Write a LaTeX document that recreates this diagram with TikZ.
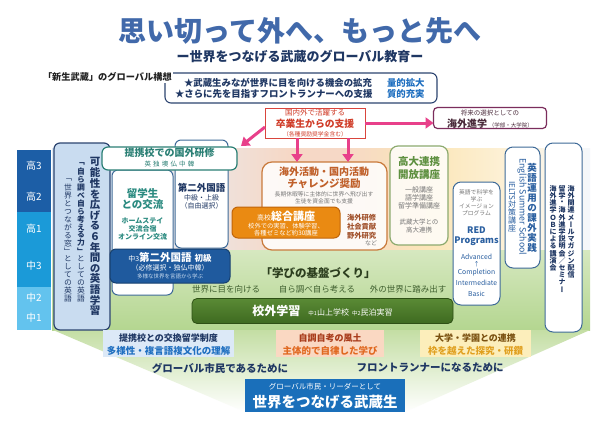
\documentclass[tikz,border=0pt]{standalone}
\usepackage{fontspec}
\setmainfont{Noto Sans CJK JP}
\newfontfamily\jpv{Noto Sans CJK JP}[RawFeature=+vert]
\usetikzlibrary{arrows.meta,calc}
\newcommand\fsz[1]{\fontsize{#1}{#1}\selectfont}
\makeatletter
\newcommand\vtxt[2]{\vbox{\offinterlineskip\def\vtxt@h{#1}\vtxt@#2\@nil}}
\def\vtxt@#1{\ifx\@nil#1\else\vbox to \vtxt@h{\vss\hbox to 1em{\hss#1\hss}\vss}\expandafter\vtxt@\fi}
\makeatother
\definecolor{titleblue}{HTML}{4169AA}
\definecolor{navy}{HTML}{1F3763}
\definecolor{accentblue}{HTML}{1F6FC0}
\definecolor{textdark}{HTML}{222222}
\definecolor{navyline}{HTML}{2C4470}
\definecolor{pinkred}{HTML}{D9453D}
\definecolor{pinktext}{HTML}{D03C28}
\definecolor{pinkA}{HTML}{E8408A}
\definecolor{maroon}{HTML}{7B2D5C}
\definecolor{maroontext}{HTML}{4A2A3A}
\definecolor{yrDark}{HTML}{1C5EA6}
\definecolor{yrMid}{HTML}{1B9AD8}
\definecolor{yrLight}{HTML}{63C3EE}
\definecolor{boxblue}{HTML}{C9DCF0}
\definecolor{boxline}{HTML}{3E6A98}
\definecolor{teal}{HTML}{2A7F74}
\definecolor{tealtext}{HTML}{2A8A80}
\definecolor{darkblue}{HTML}{1F5A9E}
\definecolor{darkblueline}{HTML}{17406F}
\definecolor{chalbrown}{HTML}{C97A3C}
\definecolor{chaltext}{HTML}{C0602A}
\definecolor{orangeA}{HTML}{EA8A12}
\definecolor{orangeD}{HTML}{C0650A}
\definecolor{brown}{HTML}{A0502A}
\definecolor{oliveline}{HTML}{8DAA6E}
\definecolor{greentext}{HTML}{5E9040}
\definecolor{engblue}{HTML}{2A5FA0}
\definecolor{grA}{HTML}{D6E8C0}
\definecolor{grB}{HTML}{B4D690}
\definecolor{grC}{HTML}{C4DEA4}
\definecolor{kgA}{HTML}{5A8A35}
\definecolor{kgB}{HTML}{3E6A20}
\definecolor{kgD}{HTML}{2E5015}
\definecolor{dgtext}{HTML}{2C3E1E}
\definecolor{phrasegreen}{HTML}{3F5F2F}
\definecolor{bAfill}{HTML}{DCE9F7}
\definecolor{bBfill}{HTML}{FAD8C2}
\definecolor{bCfill}{HTML}{FCEEBB}
\definecolor{bBtA}{HTML}{A83A1A}
\definecolor{bBtB}{HTML}{E06820}
\definecolor{bCtA}{HTML}{7A5010}
\definecolor{bCtB}{HTML}{E0A020}
\definecolor{bottomblue}{HTML}{1A6FBA}
\definecolor{grayt}{HTML}{777777}
\definecolor{bandA}{HTML}{DCE8F4}
\definecolor{bandB}{HTML}{E6EDF6}
\definecolor{bandC}{HTML}{F6D8C6}
\definecolor{bandD}{HTML}{FBE6B8}
\definecolor{bandE}{HTML}{FDF2DA}
\definecolor{bandF}{HTML}{F4F7FB}
\pgfdeclarehorizontalshading{topband}{100bp}{color(0bp)=(bandA); color(25bp)=(bandA); color(33bp)=(bandB); color(47bp)=(bandC); color(52bp)=(bandC); color(60bp)=(bandD); color(68bp)=(bandE); color(75bp)=(bandF); color(100bp)=(bandF)}
\tikzset{
  pinkarrow/.style={draw=pinkA, line width=3pt, -{Triangle[length=8pt,width=11pt]}},
  rbox/.style={rounded corners=6pt, line width=1pt, fill=white},
}
\begin{document}
\begin{tikzpicture}[x=1pt,y=-1pt,every node/.style={inner sep=0pt,outer sep=0pt}]
\useasboundingbox (0,0) rectangle (600,424);
\fill[white] (0,0) rectangle (600,424);
% backgrounds
\shade[shading=topband] (52,148) rectangle (590,250);
\shade[top color=grA,bottom color=grB] (52,250) rectangle (590,330);
\shade[top color=grC,bottom color=white] (53,330) -- (590,330) -- (405,412) -- (245,412) -- cycle;

% title
\node[font=\fsz{28}\bfseries, text=titleblue] (title) at (300,31) {思い切って外へ、もっと先へ};
\node[font=\fsz{13}\bfseries, text=navy] (subtitle) at (300,56) {ー世界をつなげる武蔵のグローバル教育ー};

% concept bracket
\draw[navyline, line width=1.1pt, rounded corners=6pt] (165,73) rectangle (437,103);
\node[fill=white, font=\fsz{9.2}\bfseries, text=textdark, inner sep=1pt, anchor=west] (concept) at (42,77) {「新生武蔵」のグローバル構想};
\node[anchor=west, font=\fsz{9.4}\bfseries, text=navy] (cA) at (184,83) {★武蔵生みなが世界に目を向ける機会の拡充};
\node[anchor=west, font=\fsz{9.4}\bfseries, text=navy] (cB) at (175,94) {★さらに先を目指すフロントランナーへの支援};
\node[anchor=west, font=\fsz{9.4}\bfseries, text=accentblue] (cAb) at (387,83) {量的拡大};
\node[anchor=west, font=\fsz{9.4}\bfseries, text=accentblue] (cBb) at (387,94) {質的充実};

% alumni box
\node[draw=pinkred, line width=1pt, fill=white, minimum width=100pt, minimum height=30pt] (alum) at (315,123) {};
\node[font=\fsz{7.5}, text=pinktext] (alumA) at (315,113) {国内外で活躍する};
\node[font=\fsz{9.8}\bfseries, text=pinktext] (alumB) at (315,124) {卒業生からの支援};
\node[font=\fsz{5.8}, text=pinktext] (alumC) at (315,134) {（各種奨励奨学金含む）};

% abroad box
\node[draw=maroon, line width=1.2pt, rounded corners=4pt, fill=white, minimum width=113pt, minimum height=21pt] (abroad) at (490,118) {};
\node[font=\fsz{6.5}, text=maroontext] (abA) at (490,113) {将来の選択としての};
\node[text=maroontext] (abB) at (490,124) {{\fsz{10}\bfseries 海外進学}\,{\fsz{5.5}（学部・大学院）}};

% year column
\node[fill=yrDark, minimum width=34pt, minimum height=62pt] (yd) at (34,181) {};
\node[fill=yrMid, minimum width=34pt, minimum height=75pt] (ym) at (34,249.5) {};
\node[fill=yrLight, minimum width=34pt, minimum height=43pt] (yl) at (34,308.5) {};
\foreach \t/\yy/\nm in {高3/166/yA,高2/197/yB,高1/229/yC,中3/266/yD,中2/298/yE,中1/318/yF}
  \node[font=\fsz{10}, text=white] (\nm) at (34,\yy) {\t};

% english learning box
\node[draw=navyline, fill=boxblue, line width=1.2pt, rounded corners=6pt, minimum width=56pt, minimum height=187pt] (eng) at (82,236.5) {};
\node[anchor=north, font=\jpv\fsz{10.5}\bfseries, text=navy] (engA) at (95,157) {\vtxt{10.6pt}{可能性を広げる６年間の英語学習}};
\node[anchor=north, font=\jpv\fsz{7.8}\bfseries, text=navy] (engBa) at (81,160) {\vtxt{7.9pt}{「自ら調べ自ら考える力」}};
\node[anchor=north, font=\jpv\fsz{7.8}, text=navy] (engBb) at (engBa.south) {\vtxt{7.9pt}{としての英語}};
\node[anchor=north, font=\jpv\fsz{7.8}, text=navy] (engCa) at (68,176) {\vtxt{7.9pt}{「世界とつながる窓」}};
\node[anchor=north, font=\jpv\fsz{7.8}, text=navy] (engCb) at (engCa.south) {\vtxt{7.9pt}{としての英語}};

% second language box (behind)
\node[draw=boxline, rbox, minimum width=53pt, minimum height=108pt] (second) at (201.5,194) {};
\node[font=\fsz{9.5}\bfseries, text=navy] (secA) at (201.5,188) {第二外国語};
\node[font=\fsz{7}, text=navy] (secB) at (201.5,198) {中級・上級};
\node[font=\fsz{7}, text=navy] (secC) at (201.5,206) {（自由選択）};

% exchange students box
\node[draw=boxline, rbox, minimum width=61pt, minimum height=125pt] (ryu) at (142.5,232.5) {};
\node[font=\fsz{10.5}\bfseries, text=tealtext] (ryuA) at (142.5,193) {留学生};
\node[font=\fsz{10.5}\bfseries, text=tealtext] (ryuB) at (142.5,205) {との交流};
\node[font=\fsz{7}\bfseries, text=tealtext] (ryuC) at (142.5,221) {ホームステイ};
\node[font=\fsz{7}\bfseries, text=tealtext] (ryuD) at (142.5,229) {交流合宿};
\node[font=\fsz{7}\bfseries, text=tealtext] (ryuE) at (142.5,237) {オンライン交流};

% partner school training
\node[draw=teal, rbox, line width=1.2pt, minimum width=135pt, minimum height=23pt] (ken) at (169.5,158.5) {};
\node[font=\fsz{10}\bfseries, text=teal] (kenA) at (169.5,153) {提携校での国外研修};
\node[font=\fsz{6.5}, text=teal] (kenB) at (169.5,164) {英\,\,独\,\,墺\,\,仏\,\,中\,\,韓};

% junior 3 second language
\node[draw=darkblueline, fill=darkblue, rounded corners=6pt, line width=1pt, minimum width=120pt, minimum height=34pt] (sec3) at (170,266) {};
\node[text=white] (sec3A) at (170,257.5) {{\fsz{7}中3}{\fsz{10.5}\bfseries 第二外国語}\hspace{3pt}{\fsz{8.5}\bfseries 初級}};
\node[font=\fsz{7}, text=white] (sec3B) at (170,268) {（必修選択・独仏中韓）};
\node[font=\fsz{5.5}, text=boxblue] (sec3C) at (170,276) {多様な世界を言語から学ぶ};

% challenge box
\node[draw=chalbrown, fill=white, fill opacity=0.85, rounded corners=10pt, line width=1.2pt, minimum width=125pt, minimum height=88pt] (chal) at (324.5,206) {};
\node[font=\fsz{10}\bfseries, text=chaltext] (chalA) at (324,172) {海外活動・国内活動};
\node[font=\fsz{10.5}\bfseries, text=chaltext] (chalB) at (324,184) {チャレンジ奨励};
\node[font=\fsz{5.8}, text=grayt] (chalC) at (324,194) {長期休暇等に主体的に世界へ飛び出す};
\node[font=\fsz{5.8}, text=grayt] (chalD) at (324,201) {生徒を資金面でも支援};

% general course
\node[draw=orangeD, fill=orangeA, rounded corners=6pt, line width=1pt, minimum width=108pt, minimum height=31pt] (sogo) at (286,222.5) {};
\node[text=white] (sogoA) at (286,216) {{\fsz{7}高校}{\fsz{11}\bfseries 総合講座}};
\node[font=\fsz{6.3}, text=white] (sogoB) at (286,226) {校外での実習、体験学習、};
\node[font=\fsz{6.3}, text=white] (sogoC) at (286,233) {各種ゼミなど約30講座};
\node[anchor=west, font=\fsz{7.3}\bfseries, text=brown] (actA) at (347,218) {海外研修};
\node[anchor=west, font=\fsz{7.3}\bfseries, text=brown] (actB) at (347,227) {社会貢献};
\node[anchor=west, font=\fsz{7.3}\bfseries, text=brown] (actC) at (347,236) {野外研究};
\node[anchor=east, font=\fsz{6}, text=grayt] (actD) at (377,243) {など};

% high school - university
\node[draw=oliveline, fill=white, fill opacity=0.8, rounded corners=8pt, line width=1.2pt, minimum width=58pt, minimum height=99pt] (kodai) at (419,195.5) {};
\node[font=\fsz{10.5}\bfseries, text=greentext] (kodaiA) at (419,162) {高大連携};
\node[font=\fsz{10.5}\bfseries, text=greentext] (kodaiB) at (419,175) {開放講座};
\node[font=\fsz{7}, text=grayt] (kodaiC) at (419,190) {一般講座};
\node[font=\fsz{7}, text=grayt] (kodaiD) at (419,198) {語学講座};
\node[font=\fsz{7}, text=grayt] (kodaiE) at (419,206) {留学準備講座};
\node[font=\fsz{6.5}, text=grayt] (kodaiF) at (419,222) {武蔵大学との};
\node[font=\fsz{6.5}, text=grayt] (kodaiG) at (419,230) {高大連携};

% RED box
\node[draw=boxline, rbox, rounded corners=8pt, minimum width=47pt, minimum height=123pt] (red) at (476.5,243.5) {};
\node[font=\fsz{5.8}, text=grayt] (redA) at (476.5,192) {英語で科学を};
\node[font=\fsz{5.8}, text=grayt] (redB) at (476.5,199) {学ぶ};
\node[font=\fsz{5.8}, text=grayt] (redC) at (476.5,206) {イメージョン};
\node[font=\fsz{5.8}, text=grayt] (redD) at (476.5,213) {プログラム};
\node[font=\fsz{9}\bfseries, text=engblue] (redE) at (476.5,230) {RED};
\node[font=\fsz{9}\bfseries, text=engblue] (redF) at (476.5,241) {Programs};
\node[font=\fsz{6.8}, text=engblue] (redG) at (476.5,257) {Advanced};
\node[font=\fsz{6}, text=engblue] (redH) at (476.5,264.5) {↑};
\node[font=\fsz{6.8}, text=engblue] (redI) at (476.5,273) {Completion};
\node[font=\fsz{6.8}, text=engblue] (redJ) at (476.5,283) {Intermediate};
\node[font=\fsz{6.8}, text=engblue] (redK) at (476.5,294) {Basic};

% English practice box
\node[draw=boxline, rbox, rounded corners=8pt, minimum width=35pt, minimum height=121pt] (eu) at (522.5,207.5) {};
\node[anchor=north, font=\jpv\fsz{9.5}\bfseries, text=engblue] (euA) at (532,163) {\vtxt{10pt}{英語運用の課外実践}};
\node[rotate=-90, anchor=west, font=\fsz{8.8}, text=engblue] (euB) at (522,158) {English Summer School};
\node[rotate=-90, anchor=west, font=\fsz{8}, text=engblue] (euCa) at (512,181) {IELTS};
\node[anchor=north, font=\jpv\fsz{8}, text=engblue] (euCb) at (euCa.east) {\vtxt{8pt}{対策講座}};

% right info box
\node[draw=boxline, rbox, rounded corners=8pt, minimum width=37pt, minimum height=189pt] (info) at (563.5,237.5) {};
\node[anchor=north, font=\jpv\fsz{7}\bfseries, text=navy] (infoA) at (571,185) {\vtxt{7.2pt}{海外関連メールマガジン配信}};
\node[anchor=north, font=\jpv\fsz{7}\bfseries, text=navy] (infoB) at (562,185) {\vtxt{7.2pt}{留学・海外進学説明会／セミナー}};
\node[anchor=north, font=\jpv\fsz{7}\bfseries, text=navy] (infoC) at (553,185) {\vtxt{7.2pt}{海外進学ＯＢによる講演会}};

% green band texts
\node[font=\fsz{11.5}\bfseries, text=dgtext] (kiban) at (318,273) {「学びの基盤づくり」};
\node[font=\fsz{8.5}, text=phrasegreen] (phA) at (226,289) {世界に目を向ける};
\node[font=\fsz{8.5}, text=phrasegreen] (phB) at (317,289) {自ら調べ自ら考える};
\node[font=\fsz{8.5}, text=phrasegreen] (phC) at (408,289) {外の世界に踏み出す};

% field study
\node[draw=kgD, top color=kgA, bottom color=kgB, rounded corners=5pt, line width=0.8pt, minimum width=261pt, minimum height=25pt] (kogai) at (322.5,311) {};
\node[text=white] (kogaiT) at (322.5,311) {{\fsz{12}\bfseries 校外学習}\hspace{8pt}{\fsz{5.5}中1}{\fsz{8}山上学校}\hspace{3pt}{\fsz{5.5}中2}{\fsz{8}民泊実習}};

% arrows
\coordinate (aL) at ($(alum.south)+(-18,0)$);
\coordinate (aR) at ($(alum.south)+(33,0)$);
\draw[pinkarrow] (aL) -- (aL |- chal.north);
\draw[pinkarrow] (aR) -- (aR |- chal.north);
\draw[pinkarrow] (alum.east) -- (alum.east -| abroad.west);
\coordinate (aW) at ($(alum.west)+(0,4)$);
\draw[pinkarrow] (aW) -- ($(ken.north east)+(4,-1)$);

% bottom values
\node[fill=bAfill, minimum width=131pt, minimum height=27pt] (bA) at (168.5,343.5) {};
\node[font=\fsz{9}\bfseries, text=navy] (bAa) at (168.5,338.5) {提携校との交換留学制度};
\node[font=\fsz{9.5}\bfseries, text=accentblue] (bAb) at (168.5,350.5) {多様性・複言語複文化の理解};
\node[fill=bBfill, minimum width=108pt, minimum height=27pt] (bB) at (330,343.5) {};
\node[font=\fsz{9}\bfseries, text=bBtA] (bBa) at (330,338.5) {自調自考の風土};
\node[font=\fsz{9.5}\bfseries, text=bBtB] (bBb) at (330,350.5) {主体的で自律した学び};
\node[fill=bCfill, minimum width=111pt, minimum height=27pt] (bC) at (475.5,343.5) {};
\node[font=\fsz{9}\bfseries, text=bCtA] (bCa) at (475.5,338.5) {大学・学園との連携};
\node[font=\fsz{9.5}\bfseries, text=bCtB] (bCb) at (475.5,350.5) {枠を越えた探究・研鑽};

\node[font=\fsz{10.5}\bfseries, text=navy] (gcA) at (220,368) {グローバル市民であるために};
\node[font=\fsz{10.5}\bfseries, text=navy] (gcB) at (430,368) {フロントランナーになるために};

\node[fill=bottomblue, minimum width=160pt, minimum height=33pt] (final) at (325,395.5) {};
\node[font=\fsz{7.5}, text=white] (finalA) at (325,387) {グローバル市民・リーダーとして};
\node[font=\fsz{14.5}\bfseries, text=white] (finalB) at (325,402) {世界をつなげる武蔵生};
\end{tikzpicture}
\end{document}
